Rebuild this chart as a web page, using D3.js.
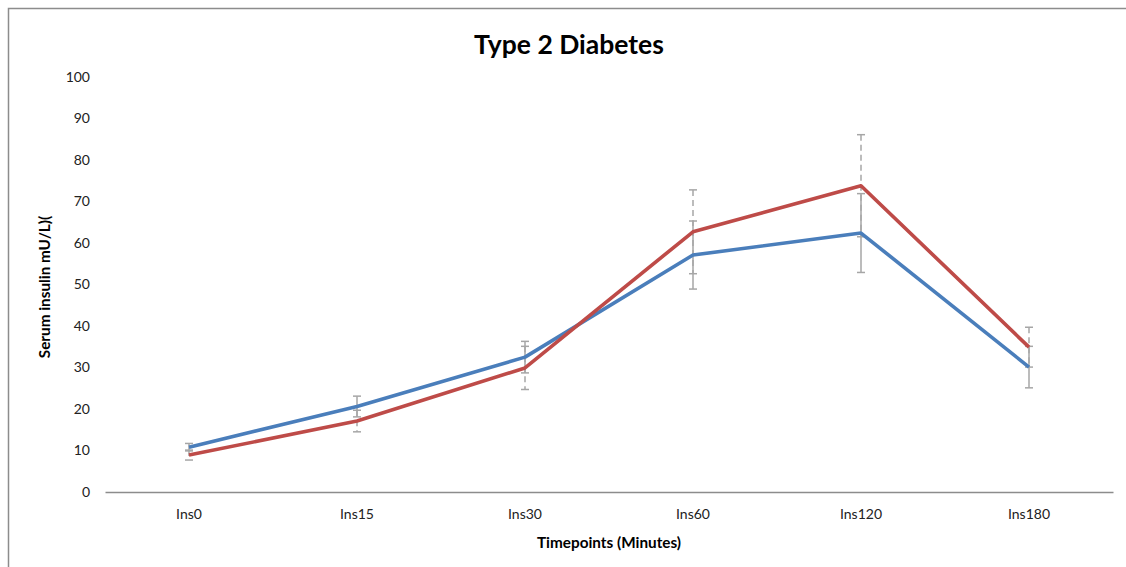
<!DOCTYPE html>
<html>
<head>
<meta charset="utf-8">
<script src="https://cdn.jsdelivr.net/npm/d3@7"></script>
<style>
  html, body { margin: 0; padding: 0; background: #fff; }
  svg { display: block; }
</style>
</head>
<body>
<svg id="chart" width="1126" height="567"></svg>
<script>
// Serum insulin over an oral glucose tolerance test, two groups with standard errors
const categories = ["Ins0", "Ins15", "Ins30", "Ins60", "Ins120", "Ins180"];
const seriesA = [10.8, 20.6, 32.5, 57.1, 62.4, 30.1];   // blue
const errorsA = [0.9, 2.5, 3.8, 8.2, 9.5, 5.0];
const seriesB = [8.9, 17.1, 29.9, 62.7, 73.8, 34.9];    // red
const errorsB = [1.2, 2.6, 5.2, 10.1, 12.3, 4.8];
const yTicks = [0, 10, 20, 30, 40, 50, 60, 70, 80, 90, 100];

const svg = d3.select("#chart");
const font = "Lato, 'Open Sans', sans-serif";

// outer chart frame
svg.append("path")
  .attr("d", "M8.5,567 L8.5,8.5 L1126,8.5")
  .attr("fill", "none")
  .attr("stroke", "#8c8c8c")
  .attr("stroke-width", 1.5);

const plotLeft = 105, plotRight = 1113, plotTop = 77, plotBottom = 492;

const x = d3.scaleBand().domain(categories).range([plotLeft, plotRight]);
const y = d3.scaleLinear().domain([0, 100]).range([plotBottom, plotTop]);
const cx = d => x(d) + x.bandwidth() / 2;

// title
svg.append("text")
  .attr("x", 569).attr("y", 54)
  .attr("text-anchor", "middle")
  .attr("font-family", font)
  .attr("font-weight", "bold")
  .attr("font-size", 26.5)
  .attr("fill", "#000")
  .text("Type 2 Diabetes");

// y axis labels (no axis line)
const yAxis = svg.append("g")
  .attr("transform", `translate(${plotLeft},0)`)
  .call(d3.axisLeft(y).tickValues(yTicks).tickSize(0).tickPadding(15));
yAxis.select(".domain").remove();
yAxis.selectAll("text")
  .attr("font-family", font)
  .attr("font-size", 14)
  .attr("fill", "#222");

// x axis
const xAxis = svg.append("g")
  .attr("transform", `translate(0,${plotBottom})`)
  .call(d3.axisBottom(x).tickSize(0).tickPadding(17));
xAxis.select(".domain")
  .attr("stroke", "#8c8c8c")
  .attr("stroke-width", 1.5);
xAxis.selectAll("text")
  .attr("font-family", font)
  .attr("font-size", 14)
  .attr("fill", "#222");

// axis titles
svg.append("text")
  .attr("x", 609).attr("y", 548)
  .attr("text-anchor", "middle")
  .attr("font-family", font)
  .attr("font-weight", "bold")
  .attr("font-size", 15.3)
  .attr("fill", "#000")
  .text("Timepoints (Minutes)");

svg.append("text")
  .attr("transform", "translate(50,287) rotate(-90)")
  .attr("text-anchor", "middle")
  .attr("font-family", font)
  .attr("font-weight", "bold")
  .attr("font-size", 15.3)
  .attr("fill", "#000")
  .text("Serum insulin mU/L)(");

// error bars
function errorBars(values, errors, dash) {
  const g = svg.append("g")
    .attr("stroke", "#a6a6a6")
    .attr("stroke-width", 1.5)
    .attr("fill", "none");
  categories.forEach((c, i) => {
    const px = cx(c);
    const hi = y(values[i] + errors[i]);
    const lo = y(values[i] - errors[i]);
    g.append("line")
      .attr("x1", px).attr("x2", px)
      .attr("y1", hi).attr("y2", lo)
      .attr("stroke-dasharray", dash);
    [hi, lo].forEach(py => {
      g.append("line")
        .attr("x1", px - 4).attr("x2", px + 4)
        .attr("y1", py).attr("y2", py);
    });
  });
}
errorBars(seriesA, errorsA, null);
errorBars(seriesB, errorsB, "6,4");

// series lines
const line = d3.line()
  .x((d, i) => cx(categories[i]))
  .y(d => y(d));

svg.append("path")
  .datum(seriesA)
  .attr("d", line)
  .attr("fill", "none")
  .attr("stroke", "#4a7ebb")
  .attr("stroke-width", 3.6)
  .attr("stroke-linejoin", "round");

svg.append("path")
  .datum(seriesB)
  .attr("d", line)
  .attr("fill", "none")
  .attr("stroke", "#be4b48")
  .attr("stroke-width", 3.6)
  .attr("stroke-linejoin", "round");
</script>
</body>
</html>
